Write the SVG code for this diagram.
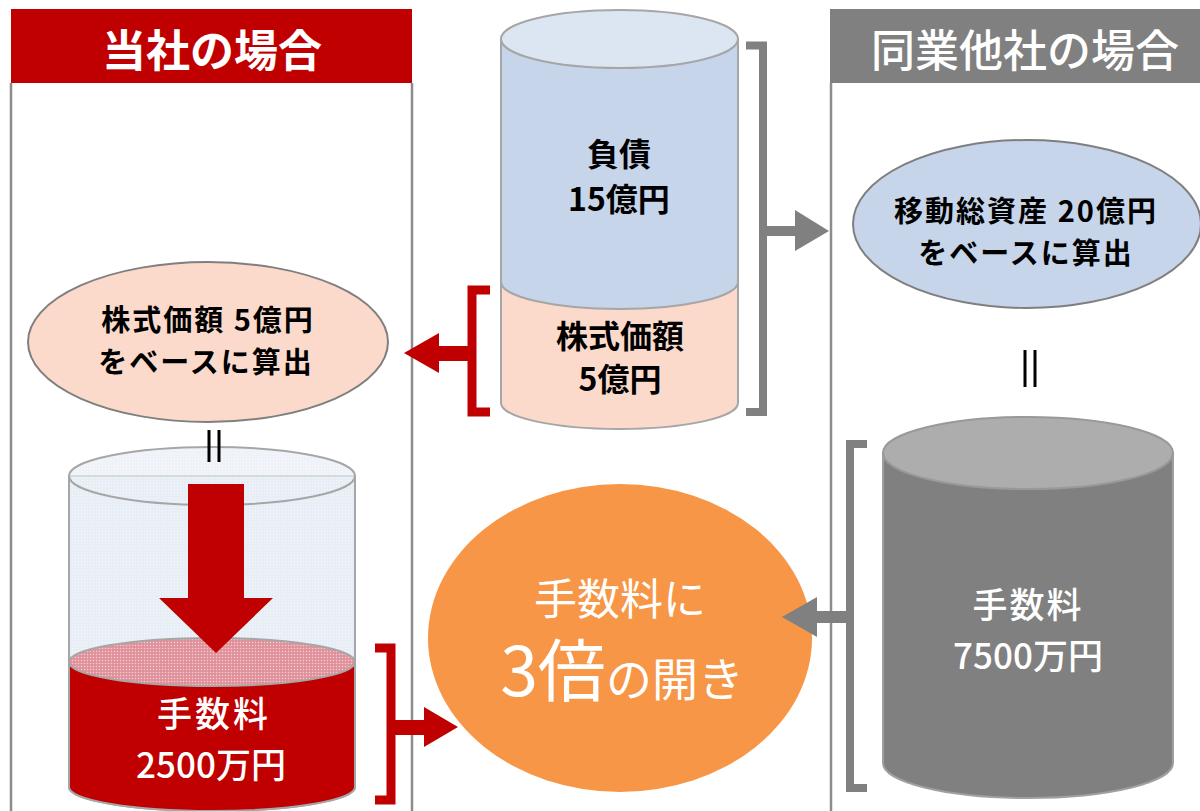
<svg xmlns="http://www.w3.org/2000/svg" width="1200" height="811" viewBox="0 0 1200 811">
<style>
.t{font-family:"Noto Sans CJK JP","Noto Sans",sans-serif;text-anchor:middle}
.b{font-weight:700;fill:#000;font-size:32px}
.e{font-size:29px;letter-spacing:2px}
.w{fill:#fff}
.cyl{stroke:#a6a6a6;stroke-width:2}
.panel{stroke:#8c8c8c;stroke-width:2.5;fill:none}
.gbr{stroke:#808080;stroke-width:8;fill:none}
.rbr{stroke:#c00000;stroke-width:9;fill:none}
</style>
<defs>
<pattern id="glass" width="3" height="3" patternUnits="userSpaceOnUse">
<rect width="3" height="3" fill="#e8eef6"/>
<rect width="1" height="1" fill="#f6f8fc"/>
</pattern>
<pattern id="liq" width="3" height="3" patternUnits="userSpaceOnUse">
<rect width="3" height="3" fill="#e39aa2"/>
<rect width="1" height="1" fill="#f4d0d4"/>
<rect x="1.5" y="1.5" width="1" height="1" fill="#d9727d"/>
</pattern>
</defs>

<g id="panel-left">
<rect x="11" y="9" width="401" height="74" fill="#c00000"/>
<line class="panel" x1="11" y1="83" x2="11" y2="811"/>
<line class="panel" x1="412" y1="83" x2="412" y2="811"/>
<text class="t w" x="212" y="67" font-size="44" font-weight="700">当社の場合</text>
</g>

<g id="panel-right">
<rect x="830" y="9" width="370" height="74" fill="#808080"/>
<line class="panel" x1="831" y1="83" x2="831" y2="811"/>
<text class="t w" x="1025" y="67" font-size="44" font-weight="500">同業他社の場合</text>
</g>

<g id="cyl-top">
<path class="cyl" d="M501,282 L501,403 A118.5,26 0 0 0 738,403 L738,282 Z" fill="#fbdacb"/>
<path class="cyl" d="M501,39 L501,282 A118.5,27 0 0 0 738,282 L738,39 Z" fill="#c6d5ea"/>
<ellipse class="cyl" cx="619.5" cy="39" rx="118.5" ry="29" fill="#dce6f2"/>
<text class="t b" x="619" y="166">負債</text>
<text class="t b" x="619" y="211">15億円</text>
<text class="t b" x="620" y="348">株式価額</text>
<text class="t b" x="620" y="391">5億円</text>
</g>

<g id="ellipse-left">
<ellipse cx="208" cy="342" rx="180" ry="80" fill="#fbdacb" stroke="#7f7f7f" stroke-width="2"/>
<text class="t b e" x="208" y="331">株式価額 5億円</text>
<text class="t b e" x="206" y="373">をベースに算出</text>
</g>

<g id="ellipse-right">
<ellipse cx="1027" cy="224" rx="174" ry="84" fill="#c6d5ea" stroke="#7f7f7f" stroke-width="2"/>
<text class="t b e" x="1026" y="222">移動総資産 20億円</text>
<text class="t b e" x="1026" y="264">をベースに算出</text>
</g>

<g id="cyl-left">
<path class="cyl" d="M69,476 L69,787 A143,24 0 0 0 355,787 L355,476 Z" fill="url(#glass)"/>
<path d="M69,662 L69,787 A143,24 0 0 0 355,787 L355,662 Z" fill="#c00000" stroke="#a6a6a6" stroke-width="2"/>
<ellipse cx="212" cy="662" rx="143" ry="24" fill="url(#liq)" stroke="#a6a6a6" stroke-width="2"/>
<ellipse class="cyl" cx="212" cy="476" rx="143" ry="29" fill="url(#glass)" fill-opacity="0.7"/>
<polygon points="188,484 244,484 244,598 273,598 216,653 159,598 188,598" fill="#c00000"/>
<text class="t w" x="214" y="727" font-size="35" font-weight="500" letter-spacing="3">手数料</text>
<text class="t w" x="211" y="778" font-size="35" font-weight="500">2500万円</text>
</g>

<g id="cyl-right">
<path d="M883,453 L883,763 A145,35 0 0 0 1173,763 L1173,453 Z" fill="#808080" stroke="#a0a0a0" stroke-width="2"/>
<ellipse cx="1028" cy="453" rx="145" ry="36" fill="#adadad" stroke="#999" stroke-width="2"/>
<text class="t w" x="1028" y="618" font-size="35" font-weight="500" letter-spacing="2">手数料</text>
<text class="t w" x="1028" y="669" font-size="35" font-weight="500">7500万円</text>
</g>

<g id="result">
<ellipse cx="620" cy="638" rx="192" ry="154" fill="#f79646"/>
<text class="t w" x="620" y="615" font-size="43">手数料に</text>
<text class="t w" x="622" y="696"><tspan font-size="68">3倍</tspan><tspan font-size="46">の開き</tspan></text>
</g>

<g id="connectors">
<path class="gbr" d="M746,45.5 H763 V412 H746"/>
<rect x="763" y="226" width="34" height="10" fill="#808080"/>
<polygon points="795,210 829,231 795,251" fill="#808080"/>

<path class="rbr" d="M490,290 H472 V412 H490"/>
<rect x="436" y="346" width="36" height="15" fill="#c00000"/>
<polygon points="439,333 404,353 439,373" fill="#c00000"/>

<path class="rbr" d="M375,648 H391 V800 H375"/>
<rect x="391" y="720" width="35" height="15" fill="#c00000"/>
<polygon points="424,707 458,727 424,747" fill="#c00000"/>

<path class="gbr" d="M867,444 H850 V788 H867"/>
<rect x="815" y="611" width="35" height="12" fill="#808080"/>
<polygon points="817,597 782,617 817,637" fill="#808080"/>

<line x1="209" y1="430" x2="209" y2="462" stroke="#000" stroke-width="3"/>
<line x1="219" y1="430" x2="219" y2="462" stroke="#000" stroke-width="3"/>
<line x1="1025" y1="350" x2="1025" y2="387" stroke="#000" stroke-width="3"/>
<line x1="1035" y1="350" x2="1035" y2="387" stroke="#000" stroke-width="3"/>
</g>
</svg>
